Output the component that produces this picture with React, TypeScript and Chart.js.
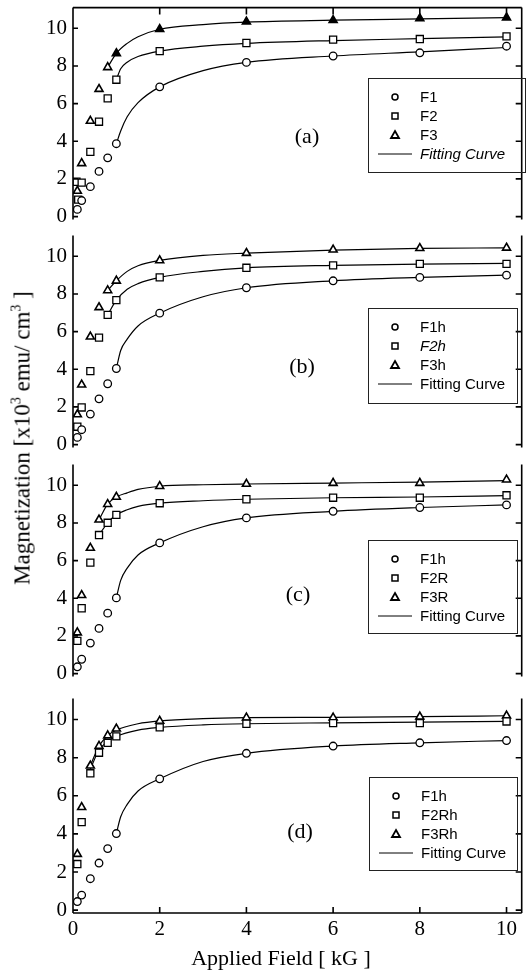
import React, { useEffect, useRef } from 'react';
import { Chart, registerables } from 'chart.js';

Chart.register(...registerables);

// ---------- data ----------
const fieldKG = [0.1, 0.2, 0.4, 0.6, 0.8, 1, 2, 4, 6, 8, 10];
const xTickValues = [0, 2, 4, 6, 8, 10];
const yTickValues = [0, 2, 4, 6, 8, 10];

// panel (a)
const aF1 = [0.38, 0.85, 1.59, 2.4, 3.12, 3.87, 6.89, 8.19, 8.53, 8.7, 9.05];
const aF2x = [0.08, 0.12, 0.2, 0.4, 0.6, 0.8, 1, 2, 4, 6, 8, 10];
const aF2 = [1.85, 0.9, 1.8, 3.44, 5.04, 6.28, 7.27, 8.79, 9.22, 9.4, 9.43, 9.57];
const aF3 = [1.36, 2.83, 5.08, 6.77, 7.93, 8.67, 9.95, 10.35, 10.43, 10.52, 10.57];

// panel (b)
const bF1h = [0.38, 0.79, 1.62, 2.43, 3.23, 4.04, 6.98, 8.33, 8.7, 8.88, 9.0];
const bF2h = [0.95, 1.97, 3.9, 5.68, 6.89, 7.67, 8.88, 9.39, 9.52, 9.6, 9.6];
const bF3h = [1.6, 3.18, 5.73, 7.29, 8.19, 8.7, 9.78, 10.17, 10.35, 10.43, 10.45];

// panel (c)
const cF1h = [0.36, 0.76, 1.62, 2.4, 3.21, 4.02, 6.94, 8.27, 8.62, 8.82, 8.96];
const cF2R = [1.74, 3.47, 5.89, 7.36, 8.01, 8.43, 9.05, 9.26, 9.34, 9.34, 9.47];
const cF3R = [2.18, 4.16, 6.67, 8.17, 9.0, 9.38, 9.95, 10.07, 10.12, 10.12, 10.3];

// panel (d)
const dF1h = [0.45, 0.79, 1.65, 2.47, 3.23, 4.02, 6.89, 8.23, 8.61, 8.78, 8.9];
const dF2Rh = [2.42, 4.62, 7.18, 8.26, 8.78, 9.12, 9.59, 9.78, 9.81, 9.81, 9.9];
const dF3Rh = [2.94, 5.4, 7.58, 8.61, 9.16, 9.52, 9.93, 10.1, 10.1, 10.15, 10.2];

// fitting curves
const fitX10 = [1, 1.1, 1.25, 1.5, 2, 3, 4, 6, 8, 10];
const fitX08 = [0.8, 1, 1.25, 1.5, 2, 3, 4, 6, 8, 10];
const fitX06 = [0.6, 0.8, 1, 1.25, 1.5, 2, 3, 4, 6, 8, 10];
const fitX04 = [0.4, 0.6, 0.8, 1, 1.5, 2, 3, 4, 6, 8, 10];

const aFit1 = [3.87, 4.55, 5.3, 6.05, 6.89, 7.75, 8.19, 8.53, 8.75, 8.98];
const aFit2 = [7.27, 7.85, 8.2, 8.5, 8.79, 9.05, 9.2, 9.35, 9.45, 9.55];
const aFit3 = [7.93, 8.67, 9.2, 9.55, 9.95, 10.2, 10.33, 10.43, 10.5, 10.57];

const bFit1 = [4.04, 5.0, 5.6, 6.3, 6.98, 7.85, 8.33, 8.7, 8.88, 9.0];
const bFit2 = [6.89, 7.67, 8.25, 8.55, 8.88, 9.2, 9.39, 9.52, 9.58, 9.62];
const bFit3 = [8.19, 8.7, 9.2, 9.5, 9.78, 10.05, 10.17, 10.33, 10.42, 10.45];

const cFit1 = [4.02, 4.95, 5.6, 6.3, 6.94, 7.8, 8.27, 8.62, 8.82, 8.96];
const cFit2 = [7.36, 8.01, 8.43, 8.7, 8.88, 9.05, 9.18, 9.26, 9.34, 9.38, 9.45];
const cFit3 = [8.17, 9.0, 9.38, 9.6, 9.78, 9.95, 10.03, 10.07, 10.12, 10.17, 10.25];

const dFit1 = [4.02, 4.9, 5.55, 6.25, 6.89, 7.8, 8.23, 8.61, 8.78, 8.9];
const dFit2 = [7.4, 8.4, 8.85, 9.12, 9.45, 9.59, 9.72, 9.78, 9.83, 9.87, 9.9];
const dFit3 = [7.58, 8.61, 9.16, 9.45, 9.78, 9.93, 10.05, 10.1, 10.12, 10.15, 10.2];

const legendA = ['F1', 'F2', 'F3', 'Fitting Curve'];
const legendB = ['F1h', 'F2h', 'F3h', 'Fitting Curve'];
const legendC = ['F1h', 'F2R', 'F3R', 'Fitting Curve'];
const legendD = ['F1h', 'F2Rh', 'F3Rh', 'Fitting Curve'];

const xTitle = 'Applied Field [ kG ]';

// ---------- layout ----------
const W = 528;
const PAD = 16;
const PANEL_H = 217;
const X_AXIS_H = 63;
const Y_AXIS_W = 73;
const Y_MIN = -0.15;
const Y_MAX = 11.1;
const X_MAX = 10.35;
const SERIF = '"Liberation Serif", "Times New Roman", serif';
const SANS = '"Liberation Sans", Arial, sans-serif';

const pts = (xs: number[], ys: number[]) => ys.map((y, i) => ({ x: xs[i], y }));

type PanelCfg = {
  top: number;
  letter: string;
  letterPos: [number, number];
  legend: string[];
  italic: boolean[];
  box: [number, number, number, number];
  series: { xs: number[]; ys: number[]; style: string; filledFrom?: number }[];
  fits: { xs: number[]; ys: number[] }[];
  topTicks?: boolean;
  last?: boolean;
};

const panels: PanelCfg[] = [
  {
    top: 5, letter: '(a)', letterPos: [307, 137], legend: legendA,
    italic: [false, false, false, true], box: [368, 78, 157, 94], topTicks: true,
    series: [
      { xs: fieldKG, ys: aF1, style: 'circle' },
      { xs: aF2x, ys: aF2, style: 'rect' },
      { xs: fieldKG, ys: aF3, style: 'triangle', filledFrom: 1 },
    ],
    fits: [{ xs: fitX10, ys: aFit1 }, { xs: fitX10, ys: aFit2 }, { xs: fitX08, ys: aFit3 }],
  },
  {
    top: 233, letter: '(b)', letterPos: [302, 367], legend: legendB,
    italic: [false, true, false, false], box: [368, 308, 149, 95],
    series: [
      { xs: fieldKG, ys: bF1h, style: 'circle' },
      { xs: fieldKG, ys: bF2h, style: 'rect' },
      { xs: fieldKG, ys: bF3h, style: 'triangle' },
    ],
    fits: [{ xs: fitX10, ys: bFit1 }, { xs: fitX08, ys: bFit2 }, { xs: fitX08, ys: bFit3 }],
  },
  {
    top: 462, letter: '(c)', letterPos: [298, 595], legend: legendC,
    italic: [false, false, false, false], box: [368, 540, 149, 93],
    series: [
      { xs: fieldKG, ys: cF1h, style: 'circle' },
      { xs: fieldKG, ys: cF2R, style: 'rect' },
      { xs: fieldKG, ys: cF3R, style: 'triangle' },
    ],
    fits: [{ xs: fitX10, ys: cFit1 }, { xs: fitX06, ys: cFit2 }, { xs: fitX06, ys: cFit3 }],
  },
  {
    top: 696, letter: '(d)', letterPos: [300, 832], legend: legendD,
    italic: [false, false, false, false], box: [369, 777, 148, 93], last: true,
    series: [
      { xs: fieldKG, ys: dF1h, style: 'circle' },
      { xs: fieldKG, ys: dF2Rh, style: 'rect' },
      { xs: fieldKG, ys: dF3Rh, style: 'triangle' },
    ],
    fits: [{ xs: fitX10, ys: dFit1 }, { xs: fitX04, ys: dFit2 }, { xs: fitX04, ys: dFit3 }],
  },
];

const radiusFor = (s: string) => (s === 'circle' ? 3.8 : s === 'rect' ? 5 : 4.6);

function drawMarker(ctx: CanvasRenderingContext2D, style: string, x: number, y: number) {
  ctx.beginPath();
  if (style === 'circle') {
    ctx.lineWidth = 1.5;
    ctx.arc(x, y, 3, 0, Math.PI * 2);
  } else if (style === 'rect') {
    ctx.lineWidth = 1.5;
    ctx.rect(x - 3, y - 3, 6, 6);
  } else {
    ctx.lineWidth = 1.8;
    ctx.moveTo(x, y - 4);
    ctx.lineTo(x + 4, y + 3);
    ctx.lineTo(x - 4, y + 3);
    ctx.closePath();
  }
  ctx.stroke();
}

function Panel({ cfg }: { cfg: PanelCfg }) {
  const ref = useRef<HTMLCanvasElement>(null);
  const canvasTop = cfg.top - PAD;
  const height = cfg.last ? PAD + PANEL_H + X_AXIS_H : PAD * 2 + PANEL_H;

  useEffect(() => {
    if (!ref.current) return;
    const frame = {
      id: 'frame',
      afterDraw(chart: any) {
        const { ctx, chartArea } = chart;
        const { left, right, top, bottom } = chartArea;
        const xs = chart.scales.x;
        const ys = chart.scales.y;
        ctx.save();
        ctx.strokeStyle = '#000';
        ctx.fillStyle = '#000';
        ctx.lineWidth = 1.6;
        ctx.beginPath();
        ctx.moveTo(left, top);
        ctx.lineTo(left, bottom);
        ctx.moveTo(right, top);
        ctx.lineTo(right, bottom);
        if (cfg.topTicks) {
          ctx.moveTo(left, top);
          ctx.lineTo(right, top);
        }
        if (cfg.last) {
          ctx.moveTo(left, bottom);
          ctx.lineTo(right, bottom);
        }
        yTickValues.forEach((v) => {
          const py = ys.getPixelForValue(v);
          ctx.moveTo(left, py);
          ctx.lineTo(left + 5, py);
          ctx.moveTo(right, py);
          ctx.lineTo(right - 6, py);
        });
        xTickValues.forEach((v) => {
          if (v === 0) return;
          const px = xs.getPixelForValue(v);
          if (cfg.topTicks) {
            ctx.moveTo(px, top);
            ctx.lineTo(px, top + 7);
          }
          if (cfg.last) {
            ctx.moveTo(px, bottom);
            ctx.lineTo(px, bottom - 6);
          }
        });
        ctx.stroke();

        // panel letter
        ctx.font = `22px ${SERIF}`;
        ctx.textAlign = 'center';
        ctx.textBaseline = 'middle';
        ctx.fillText(cfg.letter, cfg.letterPos[0], cfg.letterPos[1] - canvasTop);

        // legend box
        const [bx, byPage, bw, bh] = cfg.box;
        const by = byPage - canvasTop;
        ctx.lineWidth = 1;
        ctx.strokeStyle = '#222';
        ctx.strokeRect(bx + 0.5, by + 0.5, bw, bh);
        ctx.strokeStyle = '#000';
        const styles = cfg.series.map((s) => s.style);
        cfg.legend.forEach((label, i) => {
          const ry = by + 19 + i * 19;
          if (i < 3) {
            drawMarker(ctx, styles[i], bx + 27, ry);
          } else {
            ctx.lineWidth = 1;
            ctx.beginPath();
            ctx.moveTo(bx + 10, ry);
            ctx.lineTo(bx + 44, ry);
            ctx.stroke();
          }
          ctx.font = `${cfg.italic[i] ? 'italic ' : ''}15px ${SANS}`;
          ctx.textAlign = 'left';
          ctx.textBaseline = 'middle';
          ctx.fillText(label, bx + 52, ry + 1);
        });
        ctx.restore();
      },
    };

    const datasets: any[] = [];
    cfg.series.forEach((s, i) => {
      datasets.push({
        label: cfg.legend[i],
        data: pts(s.xs, s.ys),
        showLine: false,
        pointStyle: s.style,
        pointRadius: radiusFor(s.style),
        pointBorderWidth: s.style === 'triangle' ? 1.6 : 1.3,
        pointBorderColor: '#000',
        pointBackgroundColor: s.xs.map((x) =>
          s.filledFrom !== undefined && x >= s.filledFrom ? '#000' : '#fff'
        ),
      });
    });
    cfg.fits.forEach((f) => {
      datasets.push({
        label: 'Fitting Curve',
        data: pts(f.xs, f.ys),
        showLine: true,
        pointRadius: 0,
        borderColor: '#000',
        borderWidth: 1.2,
        cubicInterpolationMode: 'monotone',
        fill: false,
      });
    });

    const tickFont = { family: SERIF, size: 21 };
    const xScale: any = {
      type: 'linear',
      min: 0,
      max: X_MAX,
      display: !!cfg.last,
      afterBuildTicks: (s: any) => {
        s.ticks = xTickValues.map((v) => ({ value: v }));
      },
      grid: { display: false, drawTicks: false },
      border: { display: false },
      ticks: { font: tickFont, color: '#000', padding: 4, maxRotation: 0, autoSkip: false },
    };
    if (cfg.last) {
      xScale.afterFit = (s: any) => {
        s.height = X_AXIS_H;
      };
    }
    const chart = new Chart(ref.current, {
      type: 'scatter',
      data: { datasets },
      plugins: [frame],
      options: {
        responsive: false,
        animation: false,
        devicePixelRatio: 1,
        events: [],
        layout: { padding: { top: PAD, bottom: cfg.last ? 0 : PAD, left: 0, right: 1 } },
        plugins: { legend: { display: false }, tooltip: { enabled: false } },
        scales: {
          x: xScale,
          y: {
            type: 'linear',
            min: Y_MIN,
            max: Y_MAX,
            afterBuildTicks: (s: any) => {
              s.ticks = yTickValues.map((v) => ({ value: v }));
            },
            afterFit: (s: any) => {
              s.width = Y_AXIS_W;
            },
            grid: { display: false, drawTicks: false },
            border: { display: false },
            ticks: { font: tickFont, color: '#000', padding: 6 },
          },
        },
      } as any,
    });
    return () => chart.destroy();
  }, []);

  return (
    <canvas
      ref={ref}
      width={W}
      height={height}
      style={{ position: 'absolute', left: 0, top: canvasTop, width: W, height }}
    />
  );
}

export default function App() {
  return (
    <div
      style={{
        position: 'absolute',
        left: 0,
        top: 0,
        width: W,
        height: 976,
        background: '#fff',
        overflow: 'hidden',
      }}
    >
      {panels.map((p) => (
        <Panel key={p.letter} cfg={p} />
      ))}
      <div
        style={{
          position: 'absolute',
          left: 22,
          top: 438,
          transform: 'translate(-50%, -50%) rotate(-90deg)',
          whiteSpace: 'nowrap',
          fontFamily: SERIF,
          fontSize: 23,
          lineHeight: 1,
          color: '#000',
        }}
      >
        Magnetization [x10
        <span style={{ fontSize: 14, position: 'relative', top: -9 }}>3</span> emu/ cm
        <span style={{ fontSize: 14, position: 'relative', top: -9 }}>3</span> ]
      </div>
      <div
        style={{
          position: 'absolute',
          left: 281,
          top: 958,
          transform: 'translate(-50%, -50%)',
          whiteSpace: 'nowrap',
          fontFamily: SERIF,
          fontSize: 22,
          lineHeight: 1,
          color: '#000',
        }}
      >
        {xTitle}
      </div>
    </div>
  );
}
